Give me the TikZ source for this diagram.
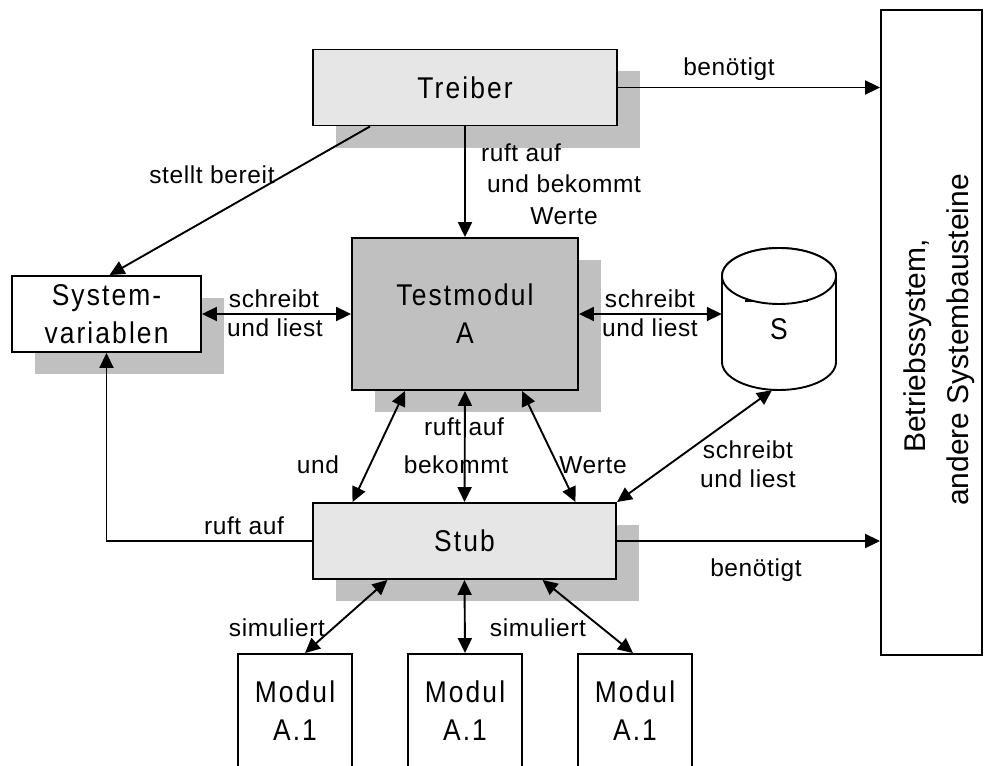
\documentclass[tikz,border=0pt]{standalone}
\usepackage{fontspec}
\setmainfont{Liberation Sans}[LetterSpace=2.5]
\newfontfamily\osfont{Liberation Sans}
\newfontfamily\boxfont{Liberation Sans}[FakeStretch=0.88, LetterSpace=7]
\usetikzlibrary{arrows.meta,shadows,calc}
\definecolor{shgray}{HTML}{C0C0C0}
\definecolor{boxgray}{HTML}{E6E6E6}
\begin{document}
\begin{tikzpicture}[x=1pt,y=-1pt,
  lw/.style={line width=1.9pt},
  >={Triangle[length=15pt,width=14pt]},
  conn/.style={lw},
  shad/.style={drop shadow={shadow xshift=23pt, shadow yshift=-22pt, fill=shgray, opacity=1, draw=none}},
  box/.style={draw, lw, rectangle, inner sep=0pt, align=center, font=\boxfont\fontsize{30}{38}\selectfont},
  lbl/.style={inner sep=0pt, anchor=base, font=\fontsize{24.5}{30}\selectfont},
  ostxt/.style={inner sep=0pt, anchor=base, rotate=90, font=\osfont\fontsize{30}{38}\selectfont}]
\useasboundingbox (0,0) rectangle (984,765);
\clip (0,0) rectangle (984,765);

% boxes
\node[box, shad, fill=boxgray, minimum width=304pt, minimum height=76pt] (treiber) at (465,87.5) {Treiber};
\node[box, shad, fill=shgray, minimum width=226pt, minimum height=152pt] (testmodul) at (465,314) {Testmodul\\A};
\node[box, shad, fill=boxgray, minimum width=303pt, minimum height=76pt] (stub) at (464.5,541) {Stub};
\node[box, shad, fill=white, minimum width=189pt, minimum height=76pt] (sysvar) at (106.5,314) {System-\\variablen};
\node[box, fill=white, minimum width=101pt, minimum height=645pt] (os) at (931.5,332.5) {};
\node[ostxt] (os1) at (925,346) {Betriebssystem,};
\node[ostxt] (os2) at (968,340) {andere Systembausteine};

\node[box, fill=white, minimum width=114pt, minimum height=114pt] (m1) at (295,711) {Modul\\A.1};
\node[box, fill=white, minimum width=114pt, minimum height=114pt] (m2) at (465,711) {Modul\\A.1};
\node[box, fill=white, minimum width=114pt, minimum height=114pt] (m3) at (635,711) {Modul\\A.1};

% cylinder
\node[inner sep=0pt, minimum width=114pt, minimum height=142pt] (cyl) at (779,319) {};
\draw[lw, fill=white] (722,276) -- (722,362)
  arc[start angle=180, end angle=360, x radius=57pt, y radius=28pt]
  -- (836,276)
  arc[start angle=0, end angle=180, x radius=57pt, y radius=28pt] -- cycle;
\draw[line width=2pt] (745,301) -- (808,301);
\draw[lw, fill=white] (779,276) ellipse[x radius=57pt, y radius=28pt];
\node[inner sep=0pt, font=\boxfont\fontsize{30}{38}\selectfont] (stext) at (779,329) {S};

% connectors
\draw[conn,->] ([xshift=-95pt]treiber.south) -- ([xshift=3pt]sysvar.north);
\draw[conn,->] (treiber.east) -- (treiber.east -| os.west);
\draw[conn,->] (treiber.south) -- (testmodul.north);
\draw[conn,<->] (sysvar.east) -- (testmodul.west);
\draw[conn,<->] (testmodul.east) -- (testmodul.east -| cyl.west);
\draw[conn,<->] ([xshift=-60pt]testmodul.south) -- ([xshift=-112pt]stub.north);
\draw[conn,<->] (testmodul.south) -- (stub.north);
\draw[conn,<->] ([xshift=57pt]testmodul.south) -- ([xshift=111pt]stub.north);
\draw[conn,<->] ([xshift=-7pt]cyl.south) -- (stub.north east);
\draw[conn,->] (stub.west) -| (sysvar.south);
\draw[conn,->] (stub.east) -- (stub.east -| os.west);
\draw[conn,<->] ([xshift=-77pt]stub.south) -- ([xshift=10pt]m1.north);
\draw[conn,<->] (stub.south) -- (m2.north);
\draw[conn,<->] ([xshift=78pt]stub.south) -- ([xshift=-2pt]m3.north);

% labels
\node[lbl] (l1) at (212,183) {stellt bereit};
\node[lbl] (l2) at (729,76) {benötigt};
\node[lbl] (l3) at (521,161) {ruft auf};
\node[lbl] (l4) at (564,192) {und bekommt};
\node[lbl] (l5) at (564,224) {Werte};
\node[lbl] (l6) at (274,307) {schreibt};
\node[lbl] (l7) at (275,336) {und liest};
\node[lbl] (l8) at (650,307) {schreibt};
\node[lbl] (l9) at (650,336) {und liest};
\node[lbl] (l10) at (318,473) {und};
\node[lbl] (l11) at (464,435) {ruft auf};
\node[lbl] (l12) at (456,473) {bekommt};
\node[lbl] (l13) at (593,473) {Werte};
\node[lbl] (l14) at (748,458) {schreibt};
\node[lbl] (l15) at (748,487) {und liest};
\node[lbl] (l16) at (244,534) {ruft auf};
\node[lbl] (l17) at (756,576) {benötigt};
\node[lbl] (l18) at (277,636) {simuliert};
\node[lbl] (l19) at (538,636) {simuliert};
\end{tikzpicture}
\end{document}
